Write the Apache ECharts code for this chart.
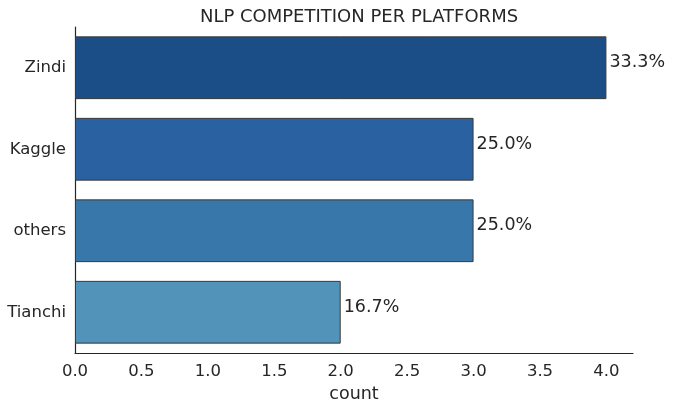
<!DOCTYPE html>
<html><head><meta charset="utf-8">
<script src="https://cdn.jsdelivr.net/npm/echarts@6/dist/echarts.min.js"></script>
<style>html,body{margin:0;padding:0;background:#fff}#c{width:674px;height:410px}</style>
</head><body><div id="c"></div>
<script>
const categories = ["Zindi", "Kaggle", "others", "Tianchi"];
const counts = [4, 3, 3, 2];
const barColors = ["#1b4d86", "#2a61a0", "#3877aa", "#5293b9"];
const xTicks = [0, 0.5, 1, 1.5, 2, 2.5, 3, 3.5, 4];

const total = counts.reduce((a, b) => a + b, 0);
const font = "DejaVu Sans";
const chart = echarts.init(document.getElementById('c'), null, {renderer: 'canvas'});
chart.setOption({
  animation: false,
  title: {text: "NLP COMPETITION PER PLATFORMS", left: 354, top: 3, textAlign: 'center',
    textStyle: {fontFamily: font, fontSize: 18, fontWeight: 'normal', color: '#262626'}},
  grid: {left: 75, right: 41, top: 27, bottom: 57, outerBoundsMode: 'none', containLabel: false},
  xAxis: {type: 'value', min: 0, max: 4.2, interval: 0.5,
    name: 'count', nameLocation: 'middle', nameGap: 32,
    nameTextStyle: {fontFamily: font, fontSize: 17.5, color: '#262626'},
    axisLine: {show: true, lineStyle: {color: '#262626', width: 1.2}},
    axisTick: {show: false}, splitLine: {show: false},
    axisLabel: {fontFamily: font, fontSize: 16.5, color: '#262626', margin: 10, showMaxLabel: false,
      formatter: v => xTicks.includes(v) ? v.toFixed(1) : ''}},
  yAxis: {type: 'category', data: categories, inverse: true,
    axisLine: {show: true, lineStyle: {color: '#262626', width: 1.2}},
    axisTick: {show: false},
    axisLabel: {fontFamily: font, fontSize: 16.5, color: '#262626', margin: 9, padding: [8, 0, 0, 0]}},
  series: [{type: 'bar', barWidth: '77%',
    data: counts.map((v, i) => ({value: v, itemStyle: {color: barColors[i]}})),
    itemStyle: {borderColor: '#3a3a3a', borderWidth: 1},
    label: {show: true, position: 'right', distance: 3, offset: [0, -5], fontFamily: font, fontSize: 17.5, color: '#262626',
      formatter: p => (p.value / total * 100).toFixed(1) + '%'}}]
});
</script></body></html>
